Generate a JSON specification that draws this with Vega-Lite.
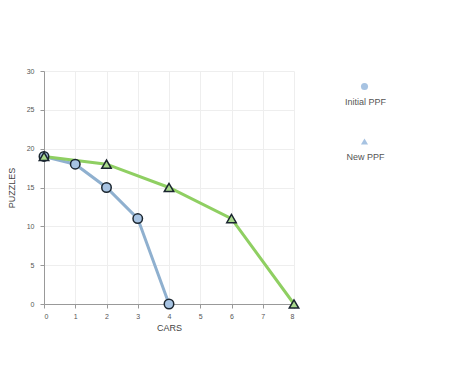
{
  "$schema": "https://vega.github.io/schema/vega-lite/v6.json",
  "width": 250,
  "height": 233,
  "autosize": {"type": "none"},
  "padding": {"left": 44, "top": 71, "right": 180, "bottom": 74},
  "background": "white",
  "data": {"values": [
    {"series": "Initial PPF", "cars": 0, "puzzles": 19},
    {"series": "Initial PPF", "cars": 1, "puzzles": 18},
    {"series": "Initial PPF", "cars": 2, "puzzles": 15},
    {"series": "Initial PPF", "cars": 3, "puzzles": 11},
    {"series": "Initial PPF", "cars": 4, "puzzles": 0},
    {"series": "New PPF", "cars": 0, "puzzles": 19},
    {"series": "New PPF", "cars": 2, "puzzles": 18},
    {"series": "New PPF", "cars": 4, "puzzles": 15},
    {"series": "New PPF", "cars": 6, "puzzles": 11},
    {"series": "New PPF", "cars": 8, "puzzles": 0}
  ]},
  "config": {
    "view": {"stroke": null},
    "axis": {
      "labelFont": "Arial, Liberation Sans",
      "titleFont": "Arial, Liberation Sans",
      "labelFontSize": 7,
      "labelColor": "#555",
      "titleFontSize": 9,
      "titleFontWeight": "normal",
      "titleColor": "#444",
      "domainColor": "#999",
      "tickColor": "#999",
      "gridColor": "#eeeeee",
      "tickSize": 4
    },
    "legend": {
      "orient": "none",
      "legendX": 316,
      "legendY": 11,
      "padding": 0,
      "symbolSize": 50,
      "symbolFillColor": "#aaaaaa",
      "symbolStrokeColor": "#888888",
      "symbolStrokeWidth": 1,
      "labelAlign": "center",
      "labelBaseline": "top",
      "labelOffset": -3.5,
      "labelFont": "Arial, Liberation Sans",
      "labelFontSize": 9,
      "labelColor": "#555",
      "rowPadding": 7
    }
  },
  "encoding": {
    "x": {"field": "cars", "type": "quantitative", "title": "CARS",
      "scale": {"domain": [0, 8], "nice": false},
      "axis": {"values": [0,1,2,3,4,5,6,7,8], "labelPadding": 4, "titlePadding": 4}},
    "y": {"field": "puzzles", "type": "quantitative", "title": "PUZZLES",
      "scale": {"domain": [0, 30], "nice": false},
      "axis": {"values": [0,5,10,15,20,25,30], "labelPadding": 6, "titlePadding": 10}}
  },
  "layer": [
    {
      "transform": [{"filter": "datum.series === 'Initial PPF'"}],
      "mark": {"type": "line", "strokeWidth": 3, "stroke": "#8fb0cf"},
      "encoding": {}
    },
    {
      "transform": [{"filter": "datum.series === 'New PPF'"}],
      "mark": {"type": "line", "strokeWidth": 3, "stroke": "#8fcf62"},
      "encoding": {}
    },
    {
      "transform": [{"filter": "datum.series === 'Initial PPF'"}],
      "mark": {"type": "point", "filled": true, "size": 90, "strokeWidth": 1.5, "fill": "#a7c3e2", "stroke": "#1b2630", "opacity": 1},
      "encoding": {
        "shape": {"field": "series", "type": "nominal",
          "scale": {"domain": ["Initial PPF", "New PPF"], "range": ["circle", "triangle-up"]},
          "legend": {"title": null, "labelExpr": "['', '', '', datum.label]"}}
      }
    },
    {
      "transform": [{"filter": "datum.series === 'New PPF'"}],
      "mark": {"type": "point", "filled": true, "size": 90, "strokeWidth": 1.5, "fill": "#a9d98c", "stroke": "#1b2630", "opacity": 1},
      "encoding": {
        "shape": {"field": "series", "type": "nominal",
          "scale": {"domain": ["Initial PPF", "New PPF"], "range": ["circle", "triangle-up"]},
          "legend": {"title": null, "labelExpr": "['', '', '', datum.label]"}}
      }
    }
  ]
}
